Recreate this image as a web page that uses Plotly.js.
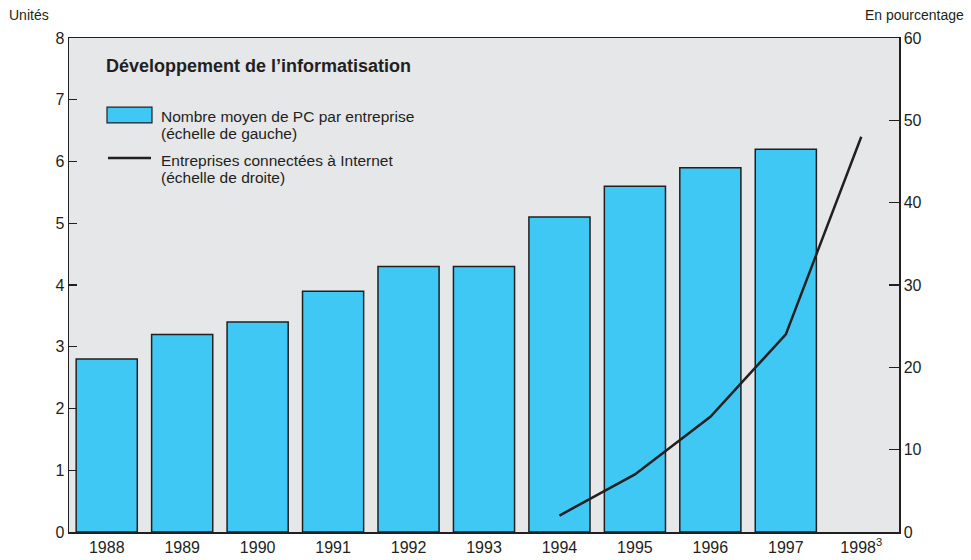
<!DOCTYPE html>
<html>
<head>
<meta charset="utf-8">
<script src="https://cdn.plot.ly/plotly-3.0.1.min.js"></script>
<style>
  body { margin: 0; background: #fff; }
  #chart { width: 971px; height: 560px; }
</style>
</head>
<body>
<div id="chart"></div>
<script>
// values
var years = ['1988', '1989', '1990', '1991', '1992', '1993', '1994', '1995', '1996', '1997', '1998<sup>3</sup>'];
var pcPerFirm = [2.8, 3.2, 3.4, 3.9, 4.3, 4.3, 5.1, 5.6, 5.9, 6.2, null];
var netYears = ['1994', '1995', '1996', '1997', '1998<sup>3</sup>'];
var connectedPct = [2, 7, 14, 24, 48];

var ink = '#231f20';
var fontName = 'Liberation Sans, Arial, sans-serif';

var bars = {
  x: years,
  y: pcPerFirm,
  type: 'bar',
  name: 'Nombre moyen de PC par entreprise',
  marker: { color: '#40c8f4', line: { color: ink, width: 1.5 } },
  hoverinfo: 'x+y'
};

var line = {
  x: netYears,
  y: connectedPct,
  yaxis: 'y2',
  type: 'scatter',
  mode: 'lines',
  name: 'Entreprises connectées à Internet',
  line: { color: ink, width: 2.5 }
};

// small helper for the hand-drawn legend / captions
function label(txt, x, y, size, anchor) {
  return { text: txt, xref: 'paper', yref: 'paper', x: x, y: y, xanchor: anchor || 'left',
           yanchor: 'middle', showarrow: false, font: { size: size } };
}

var layout = {
  width: 971,
  height: 560,
  margin: { l: 69, r: 72, t: 38, b: 28 },
  paper_bgcolor: '#ffffff',
  plot_bgcolor: '#e6e7e9',
  font: { family: fontName, size: 16, color: ink },
  showlegend: false,
  bargap: 0.19,
  xaxis: {
    type: 'category',
    showline: true,
    mirror: true,
    linecolor: ink,
    linewidth: 1.5,
    ticks: '',
    showgrid: false,
    tickfont: { size: 16 }
  },
  yaxis: {
    range: [0, 8],
    dtick: 1,
    showgrid: false,
    zeroline: false,
    showline: true,
    linecolor: ink,
    linewidth: 1.5,
    ticks: 'inside',
    ticklen: 8,
    tickcolor: ink,
    tickwidth: 1.2,
    tickfont: { size: 16 }
  },
  yaxis2: {
    overlaying: 'y',
    side: 'right',
    range: [0, 60],
    dtick: 10,
    showgrid: false,
    zeroline: false,
    showline: true,
    linecolor: ink,
    linewidth: 1.5,
    ticks: 'inside',
    ticklen: 10,
    tickcolor: ink,
    tickwidth: 1.2,
    tickfont: { size: 16 }
  },
  shapes: [
    { type: 'rect', xref: 'paper', yref: 'paper', x0: 0.0458, x1: 0.1, y0: 0.828, y1: 0.860,
      fillcolor: '#40c8f4', line: { color: ink, width: 1.2 } },
    { type: 'line', xref: 'paper', yref: 'paper', x0: 0.047, x1: 0.0988, y0: 0.757, y1: 0.757,
      line: { color: ink, width: 2.5 } }
  ],
  annotations: [
    label('Unités', -0.075, 1.047, 14),
    label('En pourcentage', 1.081, 1.047, 14, 'right'),
    label('<b>Développement de l’informatisation</b>', 0.0422, 0.943, 18),
    label('Nombre moyen de PC par entreprise', 0.1084, 0.842, 15.5),
    label('(échelle de gauche)', 0.1084, 0.806, 15.5),
    label('Entreprises connectées à Internet', 0.1084, 0.753, 15.5),
    label('(échelle de droite)', 0.1084, 0.717, 15.5)
  ]
};

Plotly.newPlot('chart', [bars, line], layout, { displayModeBar: false, staticPlot: true });
</script>
</body>
</html>
